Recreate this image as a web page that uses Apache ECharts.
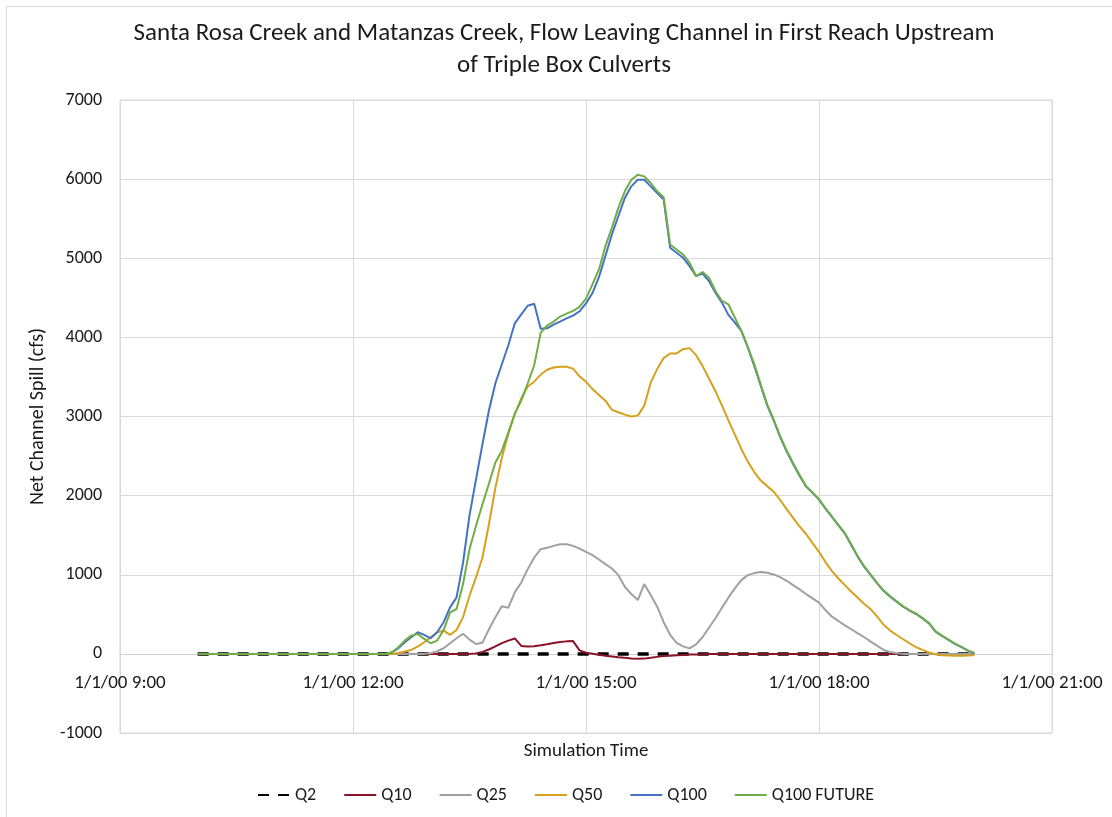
<!DOCTYPE html>
<html>
<head>
<meta charset="utf-8">
<script src="https://cdn.jsdelivr.net/npm/echarts@6/dist/echarts.min.js"></script>
<style>
html,body{margin:0;padding:0;background:#fff;}
#chart{width:1112px;height:817px;}
</style>
</head>
<body>
<div id="chart"></div>
<script>
// Simulation times (1/1/00)
var times = ['10:00','10:30','11:00','11:30',
'12:00','12:05','12:10','12:15','12:20','12:25','12:30','12:35','12:40','12:45','12:50','12:55',
'13:00','13:05','13:10','13:15','13:20','13:25','13:30','13:35','13:40','13:45','13:50','13:55',
'14:00','14:05','14:10','14:15','14:20','14:25','14:30','14:35','14:40','14:45','14:50','14:55',
'15:00','15:05','15:10','15:15','15:20','15:25','15:30','15:35','15:40','15:45','15:50','15:55',
'16:00','16:05','16:10','16:15','16:20','16:25','16:30','16:35','16:40','16:45','16:50','16:55',
'17:00','17:05','17:10','17:15','17:20','17:25','17:30','17:35','17:40','17:45','17:50','17:55',
'18:00','18:05','18:10','18:15','18:20','18:25','18:30','18:35','18:40','18:45','18:50','18:55',
'19:00','19:05','19:10','19:15','19:20','19:25','19:30','19:35','19:40','19:45','19:50','19:55',
'20:00'];

var q2 = [0,0,0,0,
0,0,0,0,0,0,0,0,0,0,0,0,
0,0,0,0,0,0,0,0,0,0,0,0,
0,0,0,0,0,0,0,0,0,0,0,0,
0,0,0,0,0,0,0,0,0,0,0,0,
0,0,0,0,0,0,0,0,0,0,0,0,
0,0,0,0,0,0,0,0,0,0,0,0,
0,0,0,0,0,0,0,0,0,0,0,0,
0,0,0,0,0,0,0,0,0,0,0,0,
0];

var q10 = [0,0,0,0,
0,0,0,0,0,0,0,0,0,0,0,0,
0,0,0,0,0,0,0,5,25,55,95,135,
168,195,100,93,95,108,122,138,150,158,162,45,
15,2,-12,-25,-33,-42,-50,-57,-62,-60,-50,-38,
-28,-23,-18,-13,-9,-7,-5,-3,-2,-1,0,0,
0,0,0,0,0,0,0,0,0,0,0,0,
0,0,0,0,0,0,0,0,0,0,0,0,
0,0,0,0,0,0,0,0,0,0,0,0,
0];

var q25 = [0,0,0,0,
0,0,0,0,0,0,0,0,0,0,0,0,
8,34,71,134,197,255,180,125,140,310,462,601,
584,777,903,1071,1218,1323,1340,1365,1386,1386,1365,1331,
1289,1247,1193,1134,1079,995,848,756,680,882,743,596,
400,240,140,95,70,120,210,330,450,584,710,827,
932,995,1021,1035,1025,1004,970,924,869,815,756,701,
647,554,470,416,361,311,260,210,155,101,50,25,
8,0,0,0,0,0,0,0,0,0,0,0,
0];

var q50 = [0,0,0,0,
0,0,0,0,0,0,0,12,29,50,92,147,
210,273,294,240,302,462,735,966,1218,1638,2100,2480,
2780,3034,3230,3380,3440,3530,3590,3619,3630,3628,3605,3507,
3440,3347,3272,3200,3083,3053,3024,2999,3011,3137,3431,3599,
3738,3797,3797,3851,3864,3776,3640,3480,3320,3140,2950,2770,
2590,2430,2298,2190,2120,2050,1945,1830,1720,1610,1515,1400,
1290,1160,1045,953,869,785,710,630,563,470,365,294,
239,185,134,84,50,17,-4,-17,-21,-25,-25,-21,
-13];

var q100 = [0,0,0,0,
0,0,0,0,0,0,17,71,147,210,273,240,
197,273,400,588,714,1150,1750,2200,2650,3076,3420,3660,
3900,4178,4290,4400,4424,4110,4114,4160,4199,4240,4275,4330,
4430,4560,4760,5030,5300,5531,5762,5909,5993,5993,5909,5825,
5741,5132,5069,5006,4901,4775,4805,4712,4565,4439,4284,4187,
4082,3872,3640,3390,3140,2950,2740,2560,2400,2250,2115,2035,
1949,1835,1730,1625,1520,1373,1226,1100,995,890,794,722,
659,596,546,504,449,386,281,227,176,126,84,42,
8];

var q100f = [0,0,0,0,
0,0,0,0,0,0,20,84,168,231,252,189,
134,168,300,525,567,882,1323,1617,1890,2150,2420,2568,
2800,3034,3200,3420,3648,4060,4150,4200,4263,4300,4335,4385,
4490,4670,4859,5153,5384,5636,5846,5993,6056,6035,5951,5846,
5770,5174,5111,5048,4943,4775,4826,4754,4586,4460,4418,4250,
4082,3880,3660,3400,3150,2960,2750,2570,2410,2260,2120,2040,
1955,1840,1735,1630,1525,1380,1230,1105,1000,895,800,728,
665,600,550,508,452,390,285,230,180,130,88,45,
12];

var xTicks = [9, 12, 15, 18, 21];
var yMin = -1000, yMax = 7000;
var seriesNames = ['Q2','Q10','Q25','Q50','Q100','Q100 FUTURE'];
var seriesColors = ['#000000','#8a1426','#a0a0a0','#d6a21e','#4472c4','#70ad47'];

var FONT = 'Carlito, Calibri, Lato, "Liberation Sans", sans-serif';
var TXT = '#1a1a1a';

var W = 1112, H = 817;
var GRID = { left: 120, right: 60, top: 100, bottom: 84 };
// move the x axis up so it crosses the value axis at 0
var plotH = H - GRID.top - GRID.bottom;
var zeroOffset = -plotH * (0 - yMin) / (yMax - yMin);

function toHours(t){ var p = t.split(':'); return +p[0] + (+p[1])/60; }
function pairs(vals){ return times.map(function(t,i){ return [toHours(t), vals[i]]; }); }

var allVals = [q2, q10, q25, q50, q100, q100f];
var series = allVals.map(function(v, i){
  var s = {
    name: seriesNames[i],
    type: 'line',
    data: pairs(v),
    symbol: 'none',
    smooth: false,
    color: seriesColors[i],
    lineStyle: { color: seriesColors[i], width: 2 }
  };
  if (i === 0) { s.lineStyle = { color: '#000', width: 3.5, type: [11, 9] }; }
  return s;
});

var chart = echarts.init(document.getElementById('chart'), null, {renderer: 'canvas'});
chart.setOption({
  backgroundColor: '#ffffff',
  animation: false,
  title: {
    text: 'Santa Rosa Creek and Matanzas Creek, Flow Leaving Channel in First Reach Upstream\nof Triple Box Culverts',
    left: 564,
    top: 18,
    padding: 0,
    textAlign: 'center',
    textStyle: { fontFamily: FONT, fontSize: 25, fontWeight: 'normal', color: TXT, lineHeight: 32 }
  },
  graphic: [{
    type: 'rect', silent: true,
    shape: { x: 6.5, y: 6.5, width: 1120, height: 830 },
    style: { fill: 'none', stroke: '#d9d9d9', lineWidth: 1 }
  }],
  legend: {
    top: 786,
    left: 257,
    padding: 0,
    itemWidth: 32,
    itemHeight: 10,
    itemGap: 27,
    itemStyle: { opacity: 0 },
    data: seriesNames,
    textStyle: { fontFamily: FONT, fontSize: 18, color: TXT }
  },
  grid: { left: GRID.left, right: GRID.right, top: GRID.top, bottom: GRID.bottom, show: true, borderColor: '#d9d9d9', borderWidth: 1, outerBoundsMode: 'none', containLabel: false },
  xAxis: {
    type: 'value',
    min: xTicks[0], max: xTicks[xTicks.length - 1], interval: 3,
    offset: zeroOffset,
    name: 'Simulation Time',
    nameLocation: 'middle',
    nameGap: 88,
    nameTextStyle: { fontFamily: FONT, fontSize: 19, color: TXT },
    axisLine: { onZero: false, show: true, lineStyle: { color: '#d0d0d0', width: 1 } },
    axisTick: { show: false },
    splitLine: { show: true, lineStyle: { color: '#d9d9d9', width: 1 } },
    axisLabel: {
      margin: 20, fontFamily: FONT, fontSize: 19, color: TXT,
      formatter: function(v){ return '1/1/00 ' + v + ':00'; }
    }
  },
  yAxis: {
    type: 'value',
    min: yMin, max: yMax, interval: 1000,
    name: 'Net Channel Spill (cfs)',
    nameLocation: 'middle',
    nameGap: 72,
    nameTextStyle: { fontFamily: FONT, fontSize: 20, color: TXT },
    axisLine: { show: false, onZero: false },
    axisTick: { show: false },
    splitLine: { show: true, lineStyle: { color: '#d9d9d9', width: 1 } },
    axisLabel: { margin: 18, fontFamily: FONT, fontSize: 18, color: TXT,
      formatter: function(v){ return String(v); } }
  },
  series: series
});
</script>
</body>
</html>
